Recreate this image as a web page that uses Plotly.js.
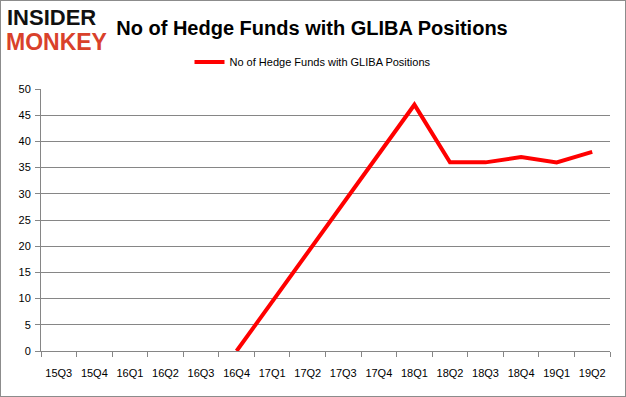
<!DOCTYPE html>
<html>
<head>
<meta charset="utf-8">
<script src="https://cdn.plot.ly/plotly-3.0.1.min.js"></script>
<style>
html,body{margin:0;padding:0;background:#fff;}
#chart{width:626px;height:397px;box-sizing:border-box;border:1px solid #8c8c8c;}
</style>
</head>
<body>
<div id="chart"></div>
<script>
const quarters = ["15Q3","15Q4","16Q1","16Q2","16Q3","16Q4","17Q1","17Q2","17Q3","17Q4","18Q1","18Q2","18Q3","18Q4","19Q1","19Q2"];
const hedgeFunds = [null,null,null,null,null,0,null,null,null,null,47,36,36,37,36,38];
const seriesName = "No of Hedge Funds with GLIBA Positions";
const yTicks = [0,5,10,15,20,25,30,35,40,45,50];

const W = 624, H = 395;
const m = {l: 40, r: 15, t: 88, b: 45};
const pw = W - m.l - m.r, ph = H - m.t - m.b;
const px = x => (x - 1 - m.l) / pw;
const py = y => (H - m.b - (y - 1)) / ph;

const trace = {
  x: quarters, y: hedgeFunds, type: "scatter", mode: "lines",
  name: seriesName, connectgaps: true,
  line: {color: "#ff0000", width: 4}
};

const layout = {
  width: W, height: H,
  margin: m,
  paper_bgcolor: "#fff", plot_bgcolor: "#fff",
  font: {family: "Liberation Sans, Arial, sans-serif", size: 11, color: "#000"},
  title: {
    text: "No of Hedge Funds with GLIBA Positions",
    font: {family: "Liberation Sans, Arial, sans-serif", size: 20, color: "#000", weight: "bold"},
    x: 312/626, xanchor: "center", xref: "container",
    y: 1 - 27/397, yanchor: "middle", yref: "container"
  },
  showlegend: true,
  legend: {
    orientation: "h", x: px(313), xanchor: "center", y: py(62), yanchor: "middle",
    font: {size: 11, color: "#000"}, bgcolor: "rgba(0,0,0,0)"
  },
  xaxis: {
    type: "category", range: [-0.5, quarters.length - 0.5], autorange: false,
    tickson: "boundaries", ticks: "outside", ticklen: 5,
    tickcolor: "#868686", showline: true, linecolor: "#868686", linewidth: 1,
    showgrid: false, ticklabelstandoff: 12, tickangle: 0,
    tickfont: {size: 11, color: "#000"}, fixedrange: true
  },
  yaxis: {
    range: [0, 50], tickvals: yTicks, ticks: "outside", ticklen: 5,
    tickcolor: "#868686", showline: true, linecolor: "#868686", linewidth: 1,
    showgrid: true, gridcolor: "#868686", gridwidth: 1, zeroline: false,
    ticklabelstandoff: 2, tickfont: {size: 11, color: "#000"}, fixedrange: true
  },
  annotations: [
    {text: "INSIDER", xref: "paper", yref: "paper", x: px(5), y: py(18), xanchor: "left", yanchor: "middle",
     showarrow: false, font: {family: "Liberation Sans, Arial, sans-serif", size: 22, color: "#111", weight: "bold"}},
    {text: "MONKEY", xref: "paper", yref: "paper", x: px(4), y: py(42), xanchor: "left", yanchor: "middle",
     showarrow: false, font: {family: "Liberation Sans, Arial, sans-serif", size: 23, color: "#d9412b", weight: "bold"}}
  ]
};

Plotly.newPlot("chart", [trace], layout, {displayModeBar: false, staticPlot: true});
</script>
</body>
</html>
